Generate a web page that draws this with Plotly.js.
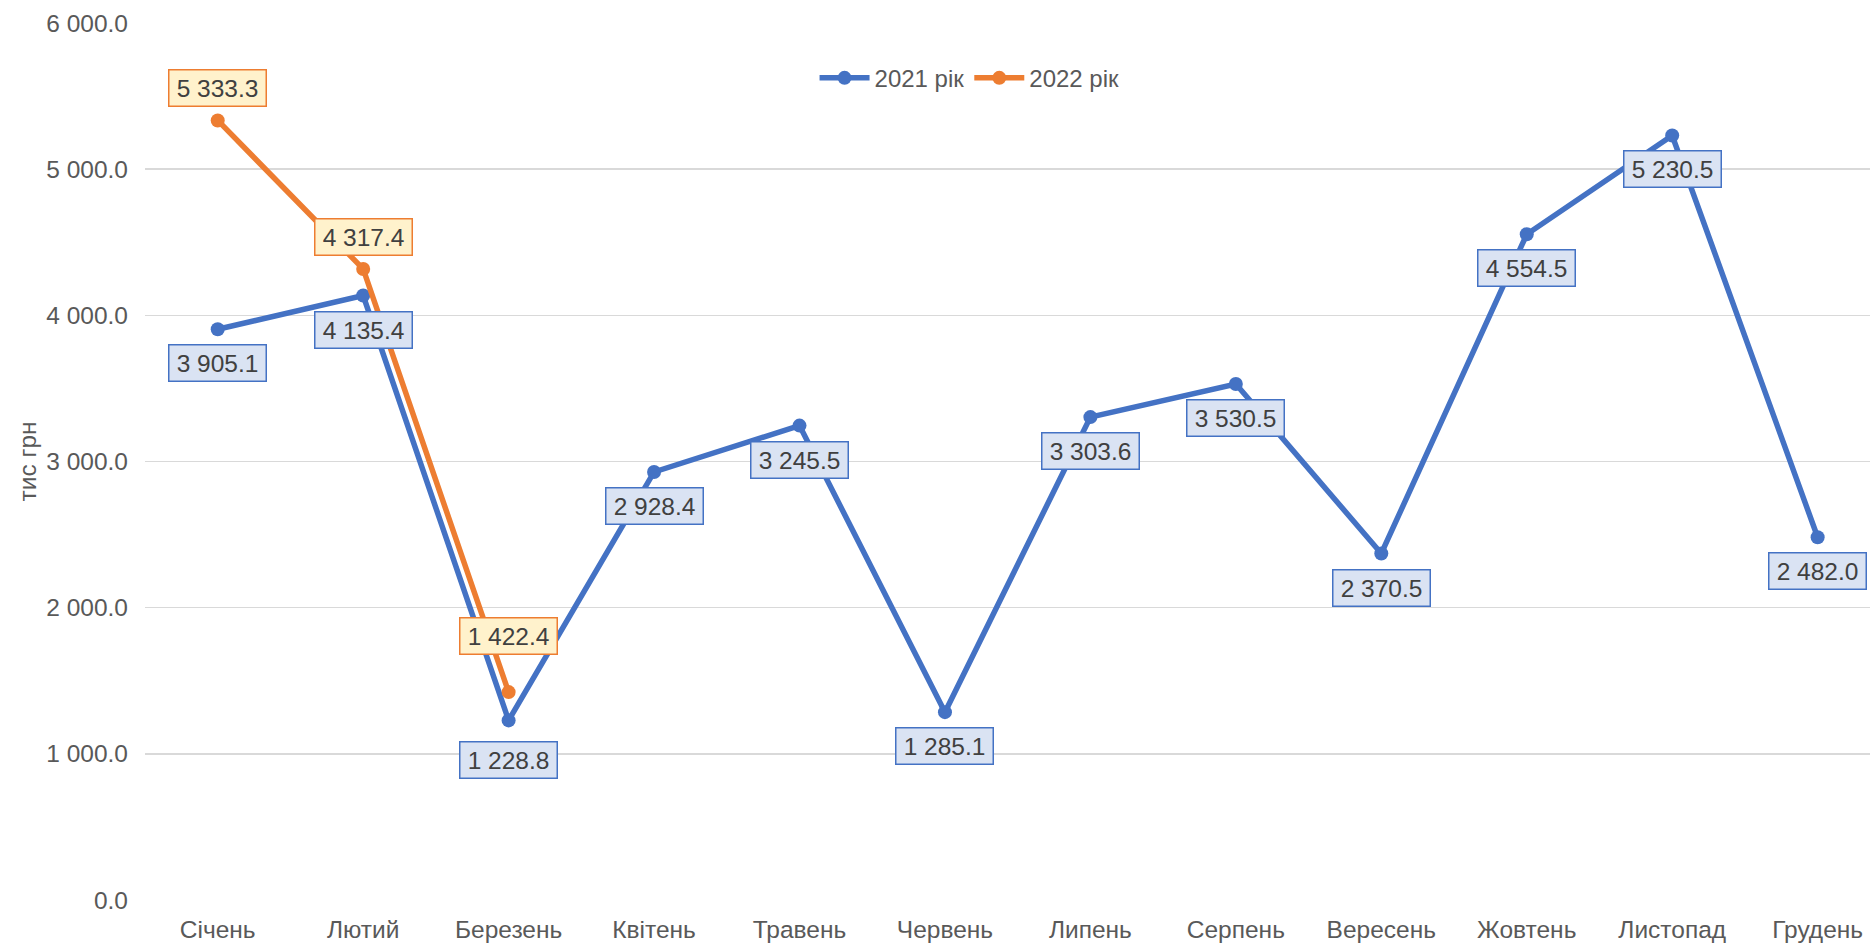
<!DOCTYPE html>
<html>
<head>
<meta charset="utf-8">
<script src="https://cdn.plot.ly/plotly-3.0.1.min.js"></script>
<style>html,body{margin:0;padding:0;background:#fff;}#chart{width:1870px;height:943px;}</style>
</head>
<body>
<div id="chart"></div>
<script>
const months = ["Січень","Лютий","Березень","Квітень","Травень","Червень","Липень","Серпень","Вересень","Жовтень","Листопад","Грудень"];
const values2021 = [3905.1,4135.4,1228.8,2928.4,3245.5,1285.1,3303.6,3530.5,2370.5,4554.5,5230.5,2482.0];
const months2022 = ["Січень","Лютий","Березень"];
const values2022 = [5333.3,4317.4,1422.4];
const seriesNames = ["2021 рік","2022 рік"];
const yTitle = "тис грн";

const BLUE = "#4472C4", ORANGE = "#ED7D31";
const FONT = "Liberation Sans, Arial, sans-serif";
const FS = 24.5;

function fmt(v){
  const parts = v.toFixed(1).split(".");
  parts[0] = parts[0].replace(/\B(?=(\d{3})+(?!\d))/g, " ");
  return parts.join(".");
}

const traces = [
  {x: months, y: values2021, name: seriesNames[0], type: "scatter", mode: "lines+markers",
   line: {color: BLUE, width: 5.5}, marker: {color: BLUE, size: 14}, hoverinfo: "skip"},
  {x: months2022, y: values2022, name: seriesNames[1], type: "scatter", mode: "lines+markers",
   line: {color: ORANGE, width: 5.5}, marker: {color: ORANGE, size: 14}, hoverinfo: "skip"}
];

const annotations = [];
function addLabels(xs, ys, color, fill, shift, extra){
  xs.forEach((m, i) => {
    annotations.push({
      x: m, y: ys[i], xref: "x", yref: "y", text: fmt(ys[i]), showarrow: false,
      yshift: shift + (extra[i] || 0),
      font: {family: FONT, size: FS, color: "#404040"},
      bgcolor: fill, bordercolor: color, borderwidth: 1.5, borderpad: 0,
      width: 96, height: 35
    });
  });
}
addLabels(months, values2021, BLUE, "#DAE3F3", -34, {2: -6});
addLabels(months2022, values2022, ORANGE, "#FFF2CC", 32, {2: 24});

const layout = {
  width: 1870, height: 943,
  margin: {l: 145, r: 0, t: 23, b: 43},
  paper_bgcolor: "#fff", plot_bgcolor: "#fff",
  separators: ". ",
  font: {family: FONT, size: FS, color: "#595959"},
  showlegend: true,
  legend: {orientation: "h", x: 0.478, xanchor: "center", y: 0.937, yanchor: "middle",
           font: {family: FONT, size: 24, color: "#595959"}, bgcolor: "rgba(0,0,0,0)", itemwidth: 50},
  xaxis: {type: "category", range: [-0.5, 11.36], showgrid: false, zeroline: false, showline: false,
          ticks: "", ticklabelstandoff: 12, tickfont: {family: FONT, size: FS, color: "#595959"}, fixedrange: true},
  yaxis: {range: [0, 6000], dtick: 1000, tickformat: ",.1f", showgrid: true, gridcolor: "#D9D9D9", gridwidth: 1.5,
          zeroline: false, showline: false, ticks: "", ticklabelstandoff: 16,
          tickfont: {family: FONT, size: FS, color: "#595959"},
          title: {text: yTitle, font: {family: FONT, size: FS, color: "#595959"}, standoff: 2}, fixedrange: true},
  annotations: annotations,
  hovermode: false
};

Plotly.newPlot("chart", traces, layout, {displayModeBar: false, staticPlot: true});
</script>
</body>
</html>
